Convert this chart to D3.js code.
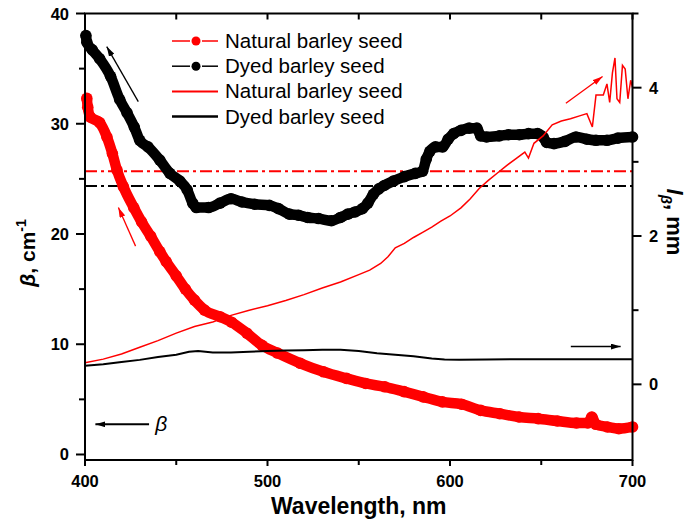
<!DOCTYPE html>
<html lang="en">
<head>
    <meta charset="UTF-8">
    <title>Barley seed</title>
</head>

<style>
body { margin: 0; background: white; }
text { font-family: 'Liberation Sans', Arial, sans-serif; fill: black; }
.tick-label { font-size: 16.5px; font-weight: bold; }
.legend text { font-size: 20.5px; }
</style>

<svg height="526" width="686"></svg>

<script src="https://d3js.org/d3.v7.min.js"></script>

<script>

    // beta (cm-1), dotted series
    var naturalBetaWl = [401, 401.5, 403, 408, 412, 415, 417.5, 421, 426.7, 431, 436, 441, 444.5, 450, 455, 460, 465.5, 474, 480.3, 488.7, 497, 505.5, 518, 530.7, 543.3, 553.8, 564.3, 574.8, 585.3, 595.8, 606.3, 616.8, 627.3, 637.8, 648.3, 658.8, 669.3, 675.6, 677.7, 679.9, 686.2, 692.5, 700];
    var naturalBeta = [32.3, 31.5, 30.6, 30.1, 28.8, 27.3, 25.8, 24.3, 22.4, 21.1, 19.8, 18.4, 17.5, 16.2, 15.0, 14.0, 13.1, 12.5, 12.0, 11.0, 9.9, 9.2, 8.27, 7.5, 6.9, 6.44, 6.14, 5.7, 5.23, 4.77, 4.56, 4.0, 3.7, 3.4, 3.25, 3.04, 2.86, 2.86, 3.4, 2.74, 2.5, 2.34, 2.5];

    var dyedBetaWl = [400.5, 401, 404, 408, 414, 419, 423, 427, 430, 434.5, 441, 446.5, 452, 456, 459, 461, 467.7, 474, 480, 486, 493, 501, 506, 512, 517, 522, 528, 535, 540, 544, 548, 552, 555, 558, 561, 564, 569, 575, 581, 585, 587, 589, 592, 596, 599, 602, 606, 610.5, 614.7, 616.8, 620, 627, 632, 638, 643, 648, 651, 653, 657, 663, 669, 675, 680, 686, 692, 700];
    var dyedBeta = [38.0, 37.4, 36.7, 35.9, 34.3, 32.2, 31.0, 29.7, 28.5, 27.9, 26.7, 25.5, 24.8, 24.0, 22.8, 22.4, 22.4, 22.8, 23.2, 22.9, 22.7, 22.6, 22.3, 21.8, 21.7, 21.5, 21.4, 21.2, 21.5, 21.8, 22.0, 22.3, 22.8, 23.6, 24.1, 24.4, 24.8, 25.2, 25.5, 25.7, 26.8, 27.5, 27.9, 27.9, 28.6, 29.1, 29.4, 29.6, 29.6, 28.9, 28.8, 28.9, 29.0, 29.0, 29.1, 29.1, 28.8, 28.3, 28.2, 28.4, 28.8, 28.6, 28.5, 28.5, 28.7, 28.8];

    // mean beta levels (dash-dot lines)
    var naturalBetaMean = 25.7;
    var dyedBetaMean = 24.35;

    // l_beta (mm), line series
    var naturalLWl = [400, 410, 420, 430, 440, 450, 460, 470, 480, 490, 500, 510, 520, 530, 540, 550, 556, 562, 566, 570, 575, 580, 585, 590, 595, 600, 606, 611, 616, 621, 626, 631, 636, 641, 643, 646, 651, 656, 661, 666, 671, 675, 678, 680, 684, 686, 687.5, 689, 690.4, 691.5, 693, 694.5, 696, 697.5, 699, 700];
    var naturalL = [0.29, 0.34, 0.41, 0.50, 0.59, 0.69, 0.78, 0.84, 0.93, 1.00, 1.06, 1.13, 1.21, 1.30, 1.38, 1.48, 1.54, 1.63, 1.72, 1.84, 1.90, 1.98, 2.05, 2.12, 2.20, 2.27, 2.38, 2.50, 2.64, 2.75, 2.85, 2.95, 3.04, 3.13, 3.05, 3.25, 3.35, 3.50, 3.55, 3.58, 3.62, 3.65, 3.47, 3.90, 3.90, 4.05, 3.80, 4.20, 4.40, 3.85, 3.80, 4.30, 4.25, 3.85, 4.10, 4.00];

    var dyedLWl = [400, 410, 420, 430, 440, 450, 457, 462, 470, 480, 490, 500, 510, 520, 530, 540, 550, 560, 570, 580, 590, 597, 605, 620, 640, 660, 680, 700];
    var dyedL = [0.25, 0.27, 0.30, 0.33, 0.37, 0.40, 0.44, 0.45, 0.43, 0.43, 0.44, 0.45, 0.455, 0.46, 0.465, 0.465, 0.45, 0.42, 0.40, 0.38, 0.35, 0.335, 0.33, 0.335, 0.34, 0.34, 0.34, 0.34];

    var xTicks = [400, 500, 600, 700];
    var xMinorTicks = [450, 550, 650];
    var betaTicks = [0, 10, 20, 30, 40];
    var betaMinorTicks = [5, 15, 25, 35];
    var lTicks = [0, 2, 4];
    var lMinorTicks = [1, 3, 5];

    var legendLabels = ["Natural barley seed", "Dyed barley seed", "Natural barley seed", "Dyed barley seed"];

    var red = "#ff0000";

    var svg = d3.select("svg");
    var plotLeft = 85, plotRight = 632.5, plotTop = 13.5, plotBottom = 460;

    var x = d3.scaleLinear().domain([400, 700]).range([plotLeft, plotRight]);
    var yBeta = d3.scaleLinear().domain([-0.5, 40]).range([plotBottom, plotTop]);
    var yL = d3.scaleLinear().domain([-1.02, 5.0]).range([plotBottom, plotTop]);

    var zip = function(xs, ys) {
        return xs.map(function(v, i) { return [v, ys[i]]; });
    };

    var defs = svg.append("defs");
    function marker(id, color) {
        defs.append("marker")
            .attr("id", id)
            .attr("viewBox", "0 0 10 6")
            .attr("refX", 10).attr("refY", 3)
            .attr("markerWidth", 10).attr("markerHeight", 6)
            .attr("markerUnits", "userSpaceOnUse")
            .attr("orient", "auto")
            .append("path").attr("d", "M0,0 L10,3 L0,6 Z").attr("fill", color);
    }
    marker("arrowBlack", "black");
    marker("arrowRed", red);

    // dash-dot mean lines
    [[naturalBetaMean, red], [dyedBetaMean, "black"]].forEach(function(m) {
        svg.append("line")
            .attr("x1", x(400)).attr("x2", x(700))
            .attr("y1", yBeta(m[0])).attr("y2", yBeta(m[0]))
            .attr("stroke", m[1]).attr("stroke-width", 2)
            .attr("stroke-dasharray", "12,4,3,4");
    });

    // dotted beta series
    var betaLine = d3.line()
        .curve(d3.curveMonotoneX)
        .x(function(d) { return x(d[0]); })
        .y(function(d) { return yBeta(d[1]); });

    [[naturalBetaWl, naturalBeta, red], [dyedBetaWl, dyedBeta, "black"]].forEach(function(s) {
        var pts = zip(s[0], s[1]);
        svg.append("path")
            .attr("d", betaLine(pts))
            .attr("fill", "none")
            .attr("stroke", s[2])
            .attr("stroke-width", 10.5)
            .attr("stroke-linejoin", "round")
            .attr("stroke-linecap", "round");
        svg.append("g").selectAll("circle")
            .data(pts)
            .enter()
            .append("circle")
            .attr("cx", function(d) { return x(d[0]); })
            .attr("cy", function(d) { return yBeta(d[1]); })
            .attr("r", 5.8)
            .attr("fill", s[2]);
    });

    // l_beta lines
    var lLine = d3.line()
        .x(function(d) { return x(d[0]); })
        .y(function(d) { return yL(d[1]); });

    svg.append("path")
        .attr("d", lLine(zip(naturalLWl, naturalL)))
        .attr("fill", "none").attr("stroke", red).attr("stroke-width", 1.5);
    svg.append("path")
        .attr("d", lLine(zip(dyedLWl, dyedL)))
        .attr("fill", "none").attr("stroke", "black").attr("stroke-width", 2);

    // frame
    svg.append("rect")
        .attr("x", plotLeft).attr("y", plotTop)
        .attr("width", plotRight - plotLeft).attr("height", plotBottom - plotTop)
        .attr("fill", "none").attr("stroke", "black").attr("stroke-width", 2);

    // ticks
    function tickLines(vals, fn) {
        vals.forEach(function(v) {
            var t = fn(v);
            svg.append("line")
                .attr("x1", t[0]).attr("y1", t[1]).attr("x2", t[2]).attr("y2", t[3])
                .attr("stroke", "black").attr("stroke-width", 2);
        });
    }
    tickLines(xTicks, function(v) { return [x(v), plotBottom, x(v), plotBottom + 6]; });
    tickLines(xMinorTicks, function(v) { return [x(v), plotBottom, x(v), plotBottom + 5]; });
    tickLines(xTicks.concat(xMinorTicks), function(v) { return [x(v), plotTop, x(v), plotTop + 6]; });
    tickLines(betaTicks, function(v) { return [plotLeft, yBeta(v), plotLeft - 9, yBeta(v)]; });
    tickLines(betaMinorTicks, function(v) { return [plotLeft, yBeta(v), plotLeft - 6, yBeta(v)]; });
    tickLines(lTicks, function(v) { return [plotRight, yL(v), plotRight + 9, yL(v)]; });
    tickLines(lMinorTicks, function(v) { return [plotRight, yL(v), plotRight + 6, yL(v)]; });

    svg.append("g").selectAll("text")
        .data(xTicks).enter().append("text")
        .attr("class", "tick-label")
        .attr("x", function(d) { return x(d); })
        .attr("y", 487)
        .attr("text-anchor", "middle")
        .text(function(d) { return d; });

    svg.append("g").selectAll("text")
        .data(betaTicks).enter().append("text")
        .attr("class", "tick-label")
        .attr("x", 69)
        .attr("y", function(d) { return yBeta(d) + 6; })
        .attr("text-anchor", "end")
        .text(function(d) { return d; });

    svg.append("g").selectAll("text")
        .data(lTicks).enter().append("text")
        .attr("class", "tick-label")
        .attr("x", 649)
        .attr("y", function(d) { return yL(d) + 6; })
        .text(function(d) { return d; });

    // axis titles
    svg.append("text")
        .attr("x", (plotLeft + plotRight) / 2).attr("y", 514)
        .attr("text-anchor", "middle")
        .style("font-size", "23px").style("font-weight", "bold")
        .text("Wavelength, nm");

    var yTitle = svg.append("text")
        .attr("transform", "translate(35,253) rotate(-90)")
        .attr("text-anchor", "middle")
        .style("font-size", "21px").style("font-weight", "bold");
    yTitle.append("tspan").style("font-style", "italic").text("β");
    yTitle.append("tspan").text(", cm");
    yTitle.append("tspan").attr("dy", -9).style("font-size", "14px").text("-1");

    var rTitle = svg.append("text")
        .attr("transform", "translate(667,222) rotate(90)")
        .attr("text-anchor", "middle")
        .style("font-size", "22px").style("font-weight", "bold");
    rTitle.append("tspan").style("font-style", "italic").text("l");
    rTitle.append("tspan").attr("dy", 6).style("font-style", "italic").style("font-size", "15px").text("β");
    rTitle.append("tspan").attr("dy", -6).text(", mm");

    // annotation arrows
    function arrow(x1, y1, x2, y2, color, id, w) {
        svg.append("line")
            .attr("x1", x1).attr("y1", y1).attr("x2", x2).attr("y2", y2)
            .attr("stroke", color).attr("stroke-width", w)
            .attr("marker-end", "url(#" + id + ")");
    }
    arrow(x(429.2), yBeta(32.0), x(411.9), yBeta(37.0), "black", "arrowBlack", 1.3);
    arrow(x(427.7), yBeta(18.9), x(418.3), yBeta(22.4), red, "arrowRed", 1.3);
    arrow(x(663.5), yL(3.79), x(683.6), yL(4.15), red, "arrowRed", 1.3);
    arrow(x(666.2), yL(0.51), x(693.5), yL(0.51), "black", "arrowBlack", 1.3);
    arrow(x(435.1), yBeta(2.74), x(405.7), yBeta(2.74), "black", "arrowBlack", 2);

    svg.append("text")
        .attr("x", x(438.5)).attr("y", yBeta(2.74) + 7)
        .style("font-size", "21px").style("font-style", "italic")
        .text("β");

    // legend
    var legend = svg.append("g").attr("class", "legend");
    var legendColors = [red, "black", red, "black"];
    legendLabels.forEach(function(label, i) {
        var cy = 41 + i * 25.2;
        var c = legendColors[i];
        if (i < 2) {
            legend.append("line").attr("x1", 172).attr("x2", 190).attr("y1", cy).attr("y2", cy)
                .attr("stroke", c).attr("stroke-width", 1.5);
            legend.append("line").attr("x1", 202).attr("x2", 218).attr("y1", cy).attr("y2", cy)
                .attr("stroke", c).attr("stroke-width", 1.5);
            legend.append("circle").attr("cx", 196).attr("cy", cy).attr("r", 4.5).attr("fill", c);
        } else {
            legend.append("line").attr("x1", 172).attr("x2", 218).attr("y1", cy).attr("y2", cy)
                .attr("stroke", c).attr("stroke-width", i == 2 ? 2 : 2.5);
        }
        legend.append("text")
            .attr("x", 225).attr("y", cy + 7)
            .text(label);
    });

</script>

</html>
